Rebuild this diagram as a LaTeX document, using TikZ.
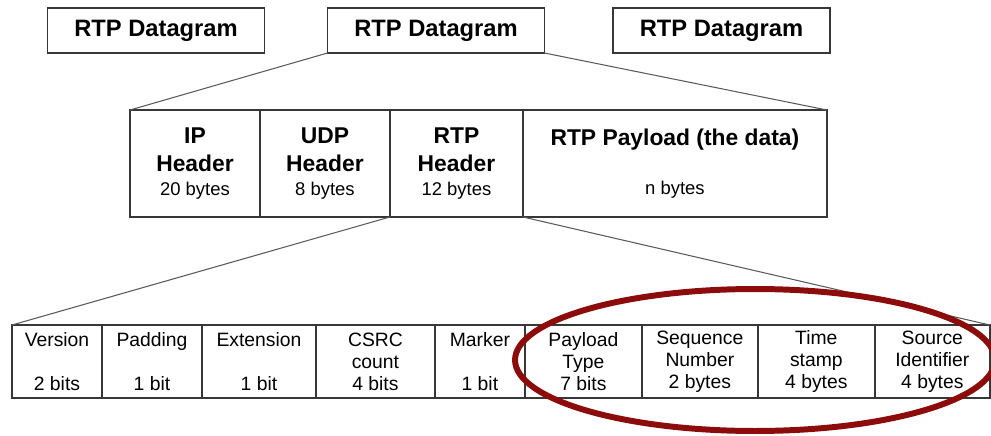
\documentclass[tikz,border=0pt]{standalone}
\usepackage{fontspec}
\setmainfont{Liberation Sans}
\usetikzlibrary{positioning}
\definecolor{Maroon}{RGB}{140,12,12}
\definecolor{Frame}{RGB}{55,55,55}
\definecolor{Wire}{RGB}{90,90,90}

\newcommand{\smalltxt}[1]{{\mdseries\fontsize{10.5}{12}\selectfont #1}}

\tikzset{
  cell/.style={draw=Frame, line width=0.9pt, outer sep=0pt, inner sep=0pt, align=center},
  dgram/.style={cell, minimum width=4.34cm, minimum height=0.9cm,
    font=\bfseries\fontsize{13.5}{16}\selectfont},
  hdr/.style={cell, minimum height=2.14cm, font=\bfseries\fontsize{13}{16}\selectfont},
  field/.style={cell, minimum height=1.46cm, font=\fontsize{11}{12.5}\selectfont},
  wire/.style={draw=Wire, line width=0.6pt}
}

\begin{document}
\begin{tikzpicture}[x=0.02cm, y=-0.02cm]
\useasboundingbox (0,0) rectangle (991,436);
%\draw[help lines] (0,0) grid[step=50] (991,436);
\node[dgram] (dg1) at (156,30.5) {RTP Datagram};
\node[dgram] (dg2) at (436,30.5) {RTP Datagram};
\node[dgram] (dg3) at (721.5,30.5) {RTP Datagram};

\node[hdr, minimum width=2.6cm, anchor=west] (ip) at (130,163.5)
  {IP\\Header\\[-2pt]\smalltxt{20 bytes}};
\node[hdr, minimum width=2.6cm, right=0pt of ip] (udp)
  {UDP\\Header\\[-2pt]\smalltxt{8 bytes}};
\node[hdr, minimum width=2.66cm, right=0pt of udp] (rtp)
  {RTP\\Header\\[-2pt]\smalltxt{12 bytes}};
\node[hdr, minimum width=6.08cm, right=0pt of rtp] (payload)
  {RTP Payload (the data)\\[12pt]\smalltxt{n bytes}};

\node[field, minimum width=1.8cm, anchor=west] (version) at (12,361.5)
  {Version\\\mbox{}\\2 bits};
\node[field, minimum width=2.0cm, right=0pt of version] (padding)
  {Padding\\\mbox{}\\1 bit};
\node[field, minimum width=2.28cm, right=0pt of padding] (extension)
  {Extension\\\mbox{}\\1 bit};
\node[field, minimum width=2.38cm, right=0pt of extension] (csrc)
  {CSRC\\count\\4 bits};
\node[field, minimum width=1.8cm, right=0pt of csrc] (marker)
  {Marker\\\mbox{}\\1 bit};
\node[field, minimum width=2.34cm, right=0pt of marker] (ptype)
  {Payload\\Type\\7 bits};
\node[field, minimum width=2.32cm, right=0pt of ptype] (seqnum)
  {Sequence\\Number\\2 bytes};
\node[field, minimum width=2.34cm, right=0pt of seqnum] (tstamp)
  {Time\\stamp\\4 bytes};
\node[field, minimum width=2.3cm, right=0pt of tstamp] (ssrc)
  {Source\\Identifier\\4 bytes};

\draw[wire] (dg2.south west) -- (ip.north west);
\draw[wire] (dg2.south east) -- (payload.north east);
\draw[wire] (rtp.south west) -- (version.north west);
\draw[wire] (rtp.south east) -- (ssrc.north east);

\draw[Maroon, line width=3.4pt] (755,360) ellipse [x radius=4.8cm, y radius=1.42cm];
\end{tikzpicture}
\end{document}
